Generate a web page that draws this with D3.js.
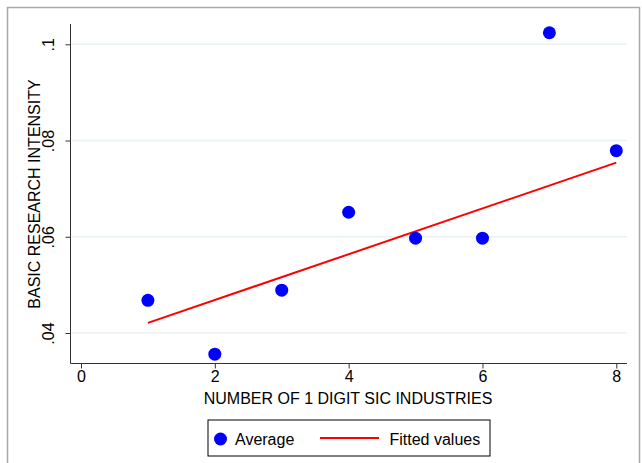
<!DOCTYPE html>
<html>
<head>
<meta charset="utf-8">
<script src="https://cdn.jsdelivr.net/npm/d3@7"></script>
<style>
  html, body { margin: 0; padding: 0; background: #fff; }
  svg { display: block; font-family: "Liberation Sans", Arial, sans-serif; }
</style>
</head>
<body>
<svg id="chart" width="642" height="463"></svg>
<script>
// ---- data ----
const industries = [1, 2, 3, 4, 5, 6, 7, 8];
const averageValues = [0.0468, 0.0356, 0.0489, 0.0651, 0.0597, 0.0597, 0.1024, 0.0779];
const fittedX = [1, 8];
const fittedValues = [0.0421, 0.0754];
const xTicks = [0, 2, 4, 6, 8];
const yTicks = [0.04, 0.06, 0.08, 0.1];
const yTickLabels = [".04", ".06", ".08", ".1"];
const xTitle = "NUMBER OF 1 DIGIT SIC INDUSTRIES";
const yTitle = "BASIC RESEARCH INTENSITY";
const legendLabels = ["Average", "Fitted values"];

// ---- layout ----
const svg = d3.select("#chart");
const plot = { left: 70.5, right: 627, top: 24, bottom: 363.5 };
const FS = 16;

const x = d3.scaleLinear().domain([0, 8]).range([81, 616.3]);
const y = d3.scaleLinear().domain([0.04, 0.1]).range([333, 44.3]);

// outer frame
svg.append("rect")
  .attr("x", 7.5).attr("y", 7.5).attr("width", 632).attr("height", 470)
  .attr("fill", "none").attr("stroke", "#a8a8a8").attr("stroke-width", 1.5);

// gridlines
svg.append("g").selectAll("line").data(yTicks).join("line")
  .attr("x1", plot.left + 1).attr("x2", plot.right)
  .attr("y1", d => y(d)).attr("y2", d => y(d))
  .attr("stroke", "#eaf1f2").attr("stroke-width", 1.5);

// y axis
const yAxis = d3.axisLeft(y).tickValues(yTicks).tickSize(5)
  .tickFormat((d, i) => yTickLabels[i]);
const gy = svg.append("g").attr("transform", `translate(${plot.left},0)`).call(yAxis);
gy.select(".domain").attr("d", `M0,${plot.top}V${plot.bottom}`).attr("stroke", "#333");
gy.selectAll(".tick line").attr("stroke", "#333");
gy.selectAll(".tick text")
  .attr("font-size", FS).attr("fill", "#000")
  .attr("text-anchor", "middle")
  .attr("x", null).attr("dy", null)
  .attr("transform", "translate(-21,0) rotate(-90)")
  .attr("y", 0).attr("dominant-baseline", "middle");

// x axis
const xAxis = d3.axisBottom(x).tickValues(xTicks).tickSize(5).tickFormat(d3.format("d"));
const gx = svg.append("g").attr("transform", `translate(0,${plot.bottom})`).call(xAxis);
gx.select(".domain").attr("d", `M${plot.left},0H${plot.right}`).attr("stroke", "#333");
gx.selectAll(".tick line").attr("stroke", "#333");
gx.selectAll(".tick text").attr("font-size", FS).attr("fill", "#000").attr("y", 7);

// axis titles
svg.append("text")
  .attr("x", 348).attr("y", 404)
  .attr("text-anchor", "middle").attr("font-size", FS).attr("fill", "#000")
  .text(xTitle);
svg.append("text")
  .attr("transform", "translate(40,194) rotate(-90)")
  .attr("text-anchor", "middle").attr("font-size", FS).attr("fill", "#000")
  .text(yTitle);

// fitted line
const line = d3.line().x(d => x(d[0])).y(d => y(d[1]));
svg.append("path")
  .datum(fittedX.map((d, i) => [d, fittedValues[i]]))
  .attr("d", line).attr("fill", "none")
  .attr("stroke", "#ff0000").attr("stroke-width", 2);

// points
svg.append("g").selectAll("circle").data(industries).join("circle")
  .attr("cx", d => x(d)).attr("cy", (d, i) => y(averageValues[i]))
  .attr("r", 6.5).attr("fill", "#0000ff");

// legend
const lg = svg.append("g");
lg.append("rect")
  .attr("x", 208).attr("y", 420).attr("width", 282).attr("height", 36)
  .attr("fill", "#fff").attr("stroke", "#000").attr("stroke-width", 1);
lg.append("circle").attr("cx", 220.5).attr("cy", 439).attr("r", 6.5).attr("fill", "#0000ff");
lg.append("text").attr("x", 235).attr("y", 444.5).attr("font-size", FS).text(legendLabels[0]);
lg.append("line").attr("x1", 320).attr("x2", 379).attr("y1", 438).attr("y2", 438)
  .attr("stroke", "#ff0000").attr("stroke-width", 2);
lg.append("text").attr("x", 389.5).attr("y", 444.5).attr("font-size", FS).text(legendLabels[1]);
</script>
</body>
</html>
